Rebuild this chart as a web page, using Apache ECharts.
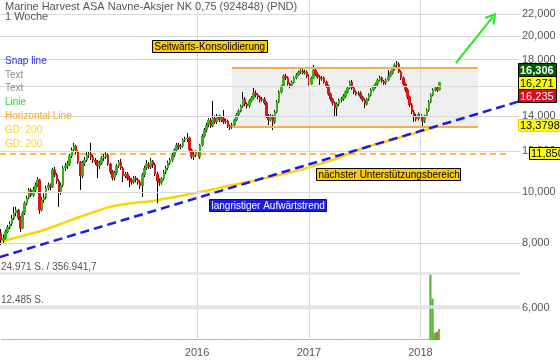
<!DOCTYPE html>
<html><head><meta charset="utf-8">
<script src="https://cdn.jsdelivr.net/npm/echarts@6/dist/echarts.min.js"></script>
<style>html,body{margin:0;padding:0;background:#fff}#c{width:560px;height:362px}</style>
</head><body><div id="c"></div>
<script>
// ---------- data ----------
const firstWeek = '2014-03-31';           // weekly candles, one per week from here
// [open, close, low, high]  (EUR)
const ohlc = [
[8.36,8.10,7.92,8.50],[8.10,8.17,8.00,8.30],[8.17,8.40,8.12,8.48],[8.40,8.58,8.35,8.66],[8.58,8.70,8.50,8.80],
[8.70,8.93,8.62,9.05],[8.93,9.13,8.85,9.38],[9.13,9.25,9.00,9.38],[9.25,8.93,8.85,9.30],[8.93,8.54,8.40,9.00],
[8.54,9.13,8.50,9.20],[9.13,9.54,9.05,9.62],[9.54,9.76,9.45,9.85],[9.76,10.11,9.70,10.20],[10.11,9.88,9.80,10.18],
[9.88,10.11,9.80,10.25],[10.11,10.33,10.00,10.45],[10.33,10.57,10.25,10.70],[10.57,9.25,9.10,10.62],[9.25,9.67,9.20,9.80],
[9.67,9.80,9.55,9.95],[9.80,10.20,9.70,10.30],[10.20,10.33,10.10,10.45],[10.33,10.24,10.10,10.40],[10.24,11.05,10.20,11.15],
[11.05,10.81,10.70,11.20],[10.81,10.52,10.40,10.90],[10.52,10.02,9.38,10.60],[10.02,10.33,9.90,10.45],[10.33,11.14,10.25,11.25],
[11.14,11.24,11.00,11.40],[11.24,11.34,11.10,11.50],[11.34,11.75,11.25,11.85],[11.75,12.07,11.65,12.20],[12.07,12.28,11.95,12.45],
[12.28,11.96,11.85,12.35],[11.96,11.44,11.35,12.05],[11.44,10.76,10.11,11.50],[10.76,11.39,10.65,11.50],[11.39,11.54,11.25,11.70],
[11.54,11.80,11.45,11.95],[11.80,11.86,11.65,12.00],[11.86,11.70,11.55,12.45],[11.70,11.54,11.40,11.80],[11.54,11.44,11.30,11.65],
[11.44,11.24,10.66,11.55],[11.24,11.39,11.10,11.50],[11.39,11.65,11.30,11.75],[11.65,11.70,11.50,11.85],[11.70,11.80,11.60,11.95],
[11.80,11.34,11.25,11.90],[11.34,10.95,10.85,11.40],[10.95,10.66,10.55,11.05],[10.66,10.90,10.55,11.00],[10.90,11.24,10.80,11.35],
[11.24,11.44,11.15,11.55],[11.44,11.14,11.05,11.60],[11.14,10.76,10.47,11.20],[10.76,10.85,10.65,10.95],[10.85,10.66,10.55,10.95],
[10.66,10.57,10.24,10.75],[10.57,10.47,10.35,10.65],[10.47,10.66,10.40,10.75],[10.66,10.57,10.45,10.75],[10.57,10.47,10.35,10.65],
[10.47,10.29,10.15,10.55],[10.29,10.81,9.80,10.90],[10.81,11.14,10.70,11.25],[11.14,11.34,11.05,11.54],[11.34,11.19,11.10,11.45],
[11.19,11.49,11.10,11.65],[11.49,11.29,11.15,11.55],[11.29,10.85,10.75,11.40],[10.85,10.52,9.54,10.95],[10.52,10.43,10.30,10.65],
[10.43,10.62,10.35,10.70],[10.62,10.95,10.55,11.05],[10.95,11.14,10.85,11.25],[11.14,11.39,11.05,11.50],[11.39,11.54,11.30,11.65],
[11.54,11.80,11.45,11.90],[11.80,12.07,11.70,12.15],[12.07,12.33,11.95,12.45],[12.33,12.23,12.10,12.45],[12.23,12.28,12.10,12.40],
[12.28,12.61,12.20,12.70],[12.61,12.67,12.50,12.80],[12.67,12.72,12.50,13.01],[12.72,12.07,11.95,12.80],[12.07,11.70,11.60,12.15],
[11.70,11.80,11.55,11.95],[11.80,11.96,11.70,12.05],[11.96,11.70,11.45,12.05],[11.70,12.33,11.60,12.40],[12.33,12.84,12.25,12.95],
[12.84,13.18,12.75,13.30],[13.18,13.48,13.05,13.60],[13.48,13.78,13.35,13.90],[13.78,13.42,13.30,13.90],[13.42,13.90,13.35,14.99],
[13.90,13.66,13.55,14.05],[13.66,14.03,13.55,14.15],[14.03,13.78,13.65,14.10],[13.78,13.90,13.65,14.00],[13.90,13.66,13.55,14.40],
[13.66,13.72,13.55,13.85],[13.72,13.42,13.30,13.80],[13.42,13.36,13.18,13.50],[13.36,13.48,13.25,13.60],[13.48,13.78,13.40,13.85],
[13.78,14.09,13.70,14.20],[14.09,14.34,14.00,14.45],[14.34,14.66,14.25,14.75],[14.66,15.12,14.55,15.60],[15.12,14.79,14.65,15.25],
[14.79,14.66,14.50,14.90],[14.66,14.99,14.55,15.10],[14.99,15.19,14.90,15.30],[15.19,15.53,15.10,15.88],[15.53,15.39,15.25,15.70],
[15.39,15.26,15.10,15.50],[15.26,15.06,14.90,15.35],[15.06,15.12,14.95,15.25],[15.12,14.86,14.75,15.25],[14.86,14.03,13.90,14.95],
[14.03,13.78,13.48,14.15],[13.78,14.03,13.70,14.15],[14.03,13.66,13.18,14.10],[13.66,14.28,13.55,14.40],[14.28,14.92,14.20,15.05],
[14.92,15.60,14.85,15.70],[15.60,16.02,15.50,16.10],[16.02,16.74,15.95,16.85],[16.74,16.60,16.45,16.90],[16.60,16.16,16.05,16.70],
[16.16,16.02,15.85,16.25],[16.02,16.30,15.95,16.40],[16.30,16.60,16.20,16.70],[16.60,16.82,16.50,16.95],[16.82,17.04,16.75,17.15],
[17.04,17.12,16.90,17.25],[17.12,16.97,16.85,17.25],[16.97,17.04,16.85,17.20],[17.04,16.74,16.60,17.15],[16.74,16.16,16.05,16.85],
[16.16,16.60,16.10,16.70],[16.60,17.19,16.55,17.58],[17.19,16.89,16.75,17.35],[16.89,16.67,16.55,17.00],[16.67,16.52,16.09,16.80],
[16.52,16.60,16.40,16.75],[16.60,16.30,16.20,16.70],[16.30,16.02,15.90,16.40],[16.02,15.46,15.35,16.10],[15.46,15.12,15.00,15.55],
[15.12,14.86,14.70,15.20],[14.86,14.53,13.97,14.95],[14.53,14.79,13.97,14.90],[14.79,15.06,14.65,15.15],[15.06,15.12,14.90,15.25],
[15.12,15.32,15.00,15.45],[15.32,15.60,15.20,15.70],[15.60,15.88,15.50,15.95],[15.88,16.30,15.80,16.40],[16.30,15.88,15.75,16.45],
[15.88,15.60,15.45,15.95],[15.60,15.46,15.35,15.70],[15.46,15.53,15.35,15.65],[15.53,15.26,15.15,15.65],[15.26,15.06,14.95,15.35],
[15.06,14.79,14.53,15.15],[14.79,15.12,14.70,15.20],[15.12,15.39,15.00,15.50],[15.39,15.74,15.30,15.85],[15.74,15.95,15.65,16.05],
[15.95,16.16,15.85,16.25],[16.16,16.45,16.05,16.55],[16.45,16.60,16.35,16.75],[16.60,16.37,16.25,16.70],[16.37,16.23,16.10,16.45],
[16.23,16.45,16.10,16.55],[16.45,16.74,16.35,17.19],[16.74,16.97,16.65,17.10],[16.97,17.27,16.85,17.40],[17.27,17.58,17.15,17.70],
[17.58,17.66,17.40,17.89],[17.66,17.04,16.95,17.80],[17.04,16.60,16.45,17.15],[16.60,16.16,16.05,16.70],[16.16,15.74,15.60,16.25],
[15.74,15.26,15.10,15.85],[15.26,14.73,14.60,15.35],[14.73,14.28,14.15,14.85],[14.28,14.03,13.66,14.40],[14.03,13.84,13.70,14.15],
[13.84,14.15,13.75,14.25],[14.15,13.90,13.54,14.25],[13.90,13.72,13.36,14.00],[13.72,14.03,13.60,14.10],[14.03,14.40,13.95,14.50],
[14.40,14.92,14.30,15.05],[14.92,15.39,14.85,15.50],[15.39,15.74,15.30,15.85],[15.74,15.88,15.65,15.98],[15.88,15.74,15.60,16.00],
[15.74,16.271,15.70,16.306]
];
const volumeStartWeek = 201;                       // earlier weeks show no volume
const volume = [24971, 15300, 2600, 3000, 4000];   // shares
const maWeeks = [0,10,20,30,40,50,60,70,80,90,100,110,120,130,140,150,160,170,180,190,200,205];
const ma200   = [8.05,8.25,8.47,8.77,9.07,9.36,9.52,9.62,9.78,9.96,10.16,10.37,10.57,10.80,11.05,11.37,11.75,12.20,12.53,12.88,13.24,13.42];
const priceTicks = [6,8,10,12,14,16,18,20,22];
const yearTicks  = ['2016-01-01','2017-01-01','2018-01-01'];
const yearLabels = ['2016','2017','2018'];
const trendDates  = ['2014-03-27','2019-04-03'];
const trendValues = [7.515, 15.80];
const supportLevel = 11.85;
const supportDates = ['2014-03-27','2018-10-11'];
const boxDates  = ['2016-04-24','2018-07-08'];
const boxTop = 17.385, boxBottom = 13.3798;
const arrowDates  = ['2018-04-27','2018-08-26'];
const arrowValues = [17.73, 21.74];
const lastHigh = 16.306, lastClose = 16.271, lastLow = 16.235;
const volTicks  = [24971, 12485];
const volLabels = ['24.971 S. / 356.941,7', '12.485 S.'];
const legendItems = [['Snap line','#2a2ae6'],['Text','#8a8a8a'],['Text','#8a8a8a'],['Linie','#22e022'],['Horizontal Line','#ffa41c'],['GD: 200','#ffd21c'],['GD: 200','#ffd21c']];

// ---------- helpers ----------
const FONT = '"Liberation Sans", Arial, sans-serif';
const fmt = (v, d) => v.toFixed(d).replace('.', ',');
function weekTime(i) { const p = firstWeek.split('-').map(Number); return new Date(p[0], p[1]-1, p[2] + 7*i).getTime(); }
const X_MIN = '2014-03-27', X_MAX = '2018-11-23';
const UP = '#36b01c', DOWN = '#dc1414';

const wickData = ohlc.map((d,i) => [weekTime(i), d[0], d[1], d[2], d[3]]);
const bodyData = ohlc.map((d,i) => [weekTime(i), d[0], d[1], Math.min(d[0],d[1]), Math.max(d[0],d[1])]);
const volData = ohlc.map((d,i) => {
  const k = i - volumeStartWeek;
  const v = (k >= 0 && k < volume.length) ? volume[k] : 0;
  const up = d[1] >= d[0];
  return { value: [weekTime(i), v], itemStyle: v ? { color: up ? '#6cc64a' : '#ee6a6a', borderColor: up ? '#2f8f1a' : '#b82020', borderWidth: 0.5 } : { color: '#b0b0b0' } };
});

const chart = echarts.init(document.getElementById('c'), null, { renderer: 'canvas' });

const graphics = [];
graphics.push({ type:'text', x:5, y:7, z:100, style:{ text:'Marine Harvest ASA Navne-Aksjer NK 0,75 (924848) (PND)', fill:'#555', font:'11px '+FONT, verticalAlign:'middle' } });
graphics.push({ type:'text', x:5, y:17, z:100, style:{ text:'1 Woche', fill:'#555', font:'11px '+FONT, verticalAlign:'middle' } });
legendItems.forEach((it, k) => {
  graphics.push({ type:'text', x:5, y:61 + k*13.8, z:100, style:{ text: it[0], fill: it[1], font:'10px '+FONT, verticalAlign:'middle' } });
});
function box(x, y, w, h, fill, stroke, text, color) {
  graphics.push({ type:'rect', z:100, shape:{ x:x+0.5, y:y+0.5, width:w, height:h }, style:{ fill, stroke, lineWidth:1 } });
  graphics.push({ type:'text', z:101, x: x + 2.5, y: y + h/2 + 1,
    style:{ text, fill: color, font:'10px ' + FONT, align:'left', verticalAlign:'middle' } });
}
box(152, 40, 115, 12, '#ffcc00', '#000', 'Seitwärts-Konsolidierung', '#000');
box(316, 168, 144, 12, '#ffcc00', '#000', 'nächster Unterstützungsbereich', '#000');
box(209, 199, 117, 12, '#1c1ce8', '#0000aa', 'langristiger Aufwärtstrend', '#fff');
// price tags on the right
function tag(x, y, w, h, fill, stroke, text, color, bold) {
  graphics.push({ type:'rect', z:100, shape:{ x:x+0.5, y:y+0.5, width:w, height:h }, style:{ fill, stroke, lineWidth:1 } });
  graphics.push({ type:'text', z:101, x:x+2, y:y+h/2+1, style:{ text, fill:color, font:(bold?'bold ':'')+'11px '+FONT, verticalAlign:'middle' } });
}
tag(518, 63, 38, 13, '#005c00', '#000', fmt(lastHigh,3), '#fff', true);
tag(518, 76, 38, 13, '#ffff00', '#000', fmt(lastClose,3), '#000', false);
tag(518, 89, 38, 13, '#dd0a20', '#000', fmt(lastLow,3), '#fff', false);
tag(518, 119, 42, 12, '#ffff00', '#f0d400', fmt(boxBottom,4), '#000', false);
tag(529, 147, 34, 12, '#ffff00', '#000', fmt(supportLevel,3), '#000', false);

const option = {
  animation: false,
  backgroundColor: '#fff',
  grid: [
    { left: 0, right: 40, top: 0, height: 340 },
    { left: 0, right: 40, top: 273, height: 67 }
  ],
  xAxis: [
    { type:'time', gridIndex:0, min:X_MIN, max:X_MAX, show:false, splitLine:{show:false} },
    { type:'time', gridIndex:1, min:X_MIN, max:X_MAX, show:false, splitLine:{show:false} }
  ],
  yAxis: [
    { type:'log', logBase:10, gridIndex:0, min:5.205, max:23.434, show:false, splitLine:{show:false} },
    { type:'value', gridIndex:1, min:0, max:volTicks[0], show:false, splitLine:{show:false} }
  ],
  graphic: graphics,
  series: [
    { // grid lines + axis labels
      name:'grid', type:'line', xAxisIndex:0, yAxisIndex:0, data:[], z:0, silent:true,
      markLine: {
        silent:true, animation:false, symbol:['none','none'],
        lineStyle:{ color:'#d9d9d9', width:1, type:'solid' },
        label:{ show:true, position:'end', distance:2, color:'#555', fontSize:11, fontFamily:FONT, formatter: p => fmt(p.value,3) },
        emphasis:{ disabled:true },
        data: priceTicks.map(v => ({ yAxis: v }))
          .concat(yearTicks.map((d,k) => ({ xAxis: d, label:{ position:'start', distance:7, formatter: yearLabels[k], color:'#555', fontSize:11, fontFamily:FONT } })))
      }
    },
    { // consolidation box
      name:'box', type:'line', xAxisIndex:0, yAxisIndex:0, data:[], z:1, silent:true,
      markArea: { silent:true, itemStyle:{ color:'#efefef' }, data:[[{ coord:[boxDates[0], boxTop] }, { coord:[boxDates[1], boxBottom] }]] },
      markLine: { silent:true, symbol:['none','none'], label:{show:false}, lineStyle:{ color:'#f3b04c', width:2, type:'solid' }, emphasis:{disabled:true},
        data:[[{ coord:[boxDates[0], boxTop] }, { coord:[boxDates[1], boxTop] }], [{ coord:[boxDates[0], boxBottom] }, { coord:[boxDates[1], boxBottom] }]] }
    },
    { name:'GD 200', type:'line', xAxisIndex:0, yAxisIndex:0, smooth:0.3, showSymbol:false, symbol:'none', z:2,
      data: maWeeks.map((w,k) => [weekTime(w), ma200[k]]), lineStyle:{ color:'#ffd400', width:2.5 } },
    { name:'Horizontal Line', type:'line', xAxisIndex:0, yAxisIndex:0, showSymbol:false, symbol:'none', z:2,
      data: supportDates.map(d => [d, supportLevel]), lineStyle:{ color:'#ffa31a', width:1.5, type:[6,4] } },
    { name:'wick', type:'candlestick', xAxisIndex:0, yAxisIndex:0, z:3, barWidth:1, encode:{ x:0, y:[1,2,3,4] },
      data: wickData, itemStyle:{ color:'#000', color0:'#000', borderColor:'#000', borderColor0:'#000', borderWidth:1 } },
    { name:'body', type:'candlestick', xAxisIndex:0, yAxisIndex:0, z:4, barWidth:2, encode:{ x:0, y:[1,2,3,4] },
      data: bodyData, itemStyle:{ color:UP, color0:DOWN, borderColor:UP, borderColor0:DOWN, borderWidth:1 } },
    { name:'trend', type:'line', xAxisIndex:0, yAxisIndex:0, clip:false, showSymbol:false, symbol:'none', z:5,
      data: trendDates.map((d,k) => [d, trendValues[k]]), lineStyle:{ color:'#1a1aee', width:2.5, type:[9,5] } },
    { name:'arrow', type:'line', xAxisIndex:0, yAxisIndex:0, data:[], z:5, silent:true,
      markLine:{ silent:true, symbol:['none','path://M0,10 L5,0 L10,10 L8.2,10 L5,3.6 L1.8,10 Z'], symbolSize:[13,11],
        label:{show:false}, emphasis:{disabled:true}, lineStyle:{ color:'#22e822', width:2, type:'solid' },
        data:[[{ coord:[arrowDates[0], arrowValues[0]] }, { coord:[arrowDates[1], arrowValues[1]] }]] } },
    { name:'volume', type:'bar', xAxisIndex:1, yAxisIndex:1, barWidth:2, barMinHeight:1, z:3, data: volData,
      markLine:{ silent:true, symbol:['none','none'], emphasis:{disabled:true},
        lineStyle:{ color:'#e3e3e3', width:2.5, type:'solid' },
        label:{ show:true, position:'insideStartTop', distance:1, color:'#555', fontSize:10, fontFamily:FONT },
        data: volTicks.map((v,k) => ({ yAxis:v, label:{ formatter: volLabels[k] } })) } }
  ]
};
chart.setOption(option);
</script>
</body></html>
